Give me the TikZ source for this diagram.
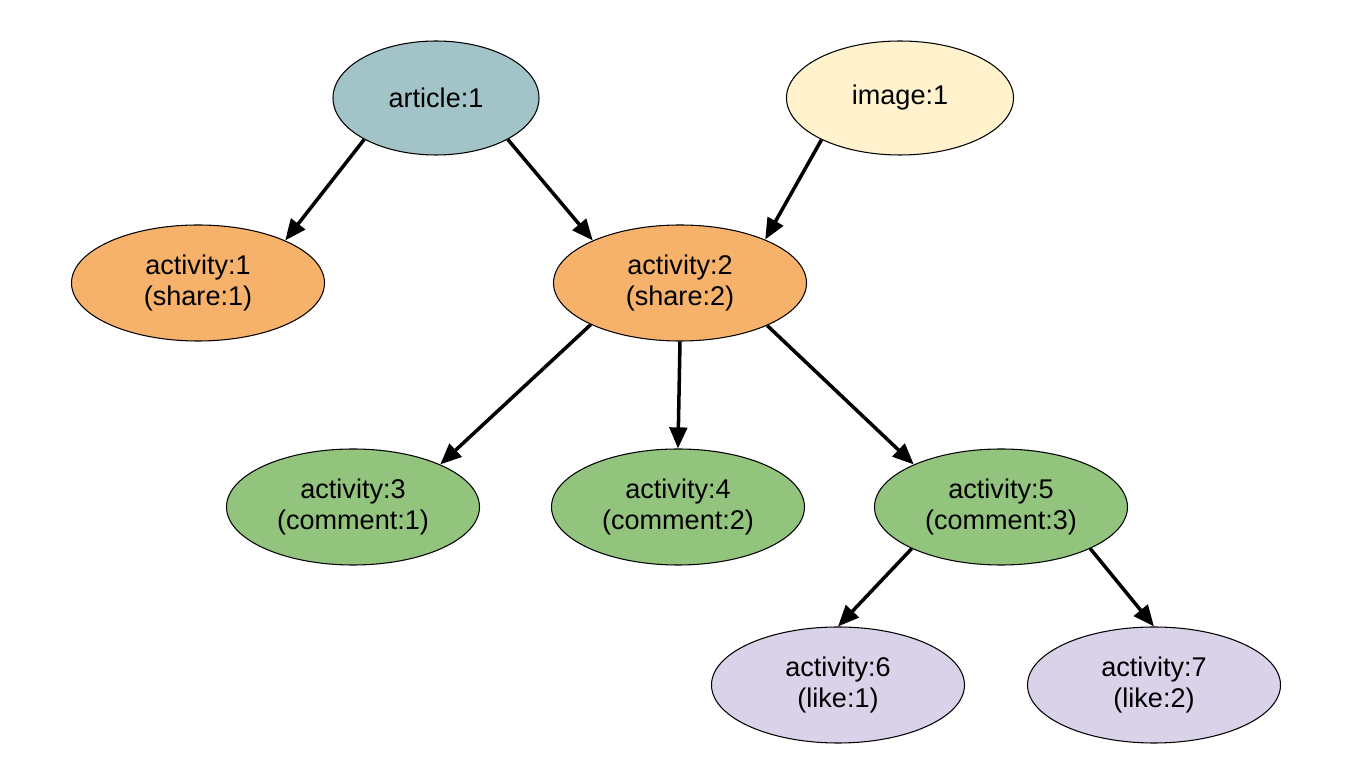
\documentclass[tikz,border=0pt]{standalone}
\usepackage{fontspec}
\setmainfont{Liberation Sans}
\usepackage{xcolor}
\usepackage{tikz}
\usetikzlibrary{shapes.geometric, arrows.meta, positioning}
\definecolor{articleblue}{HTML}{A2C4C9}
\definecolor{imageyellow}{HTML}{FFF2CC}
\definecolor{shareorange}{HTML}{F6B26B}
\definecolor{commentgreen}{HTML}{93C47D}
\definecolor{likepurple}{HTML}{D9D2E9}
\tikzstyle{object} = [ellipse, minimum height=2.28cm, text centered, draw=black, line width=0.6pt, font=\fontsize{15.4}{17.5}\selectfont]
\tikzstyle{activity} = [ellipse, minimum width=5.06cm, minimum height=2.32cm, align=center, draw=black, line width=0.6pt, font=\fontsize{15.4}{17.5}\selectfont]
\tikzstyle{arrow} = [line width=2pt,->,>={Triangle[length=12pt,width=10pt]}]

\begin{document}
\begin{tikzpicture}[node distance=3.7cm]
\useasboundingbox (0,0) rectangle (27.32,15.64);

\node (article) [object, minimum width=4.12cm, fill=articleblue] at (8.72,13.68) {article:1};
\node (image) [object, minimum width=4.54cm, fill=imageyellow, right of=article, node distance=9.28cm] {image:1};
\node (act1) [activity, fill=shareorange, below of=article, xshift=-4.76cm] {activity:1\\(share:1)};
\node (act2) [activity, fill=shareorange, below of=article, xshift=4.88cm] {activity:2\\(share:2)};
\node (act3) [activity, fill=commentgreen, below of=act2, node distance=4.48cm, xshift=-6.54cm] {activity:3\\(comment:1)};
\node (act4) [activity, fill=commentgreen, below of=act2, node distance=4.48cm, xshift=-0.04cm] {activity:4\\(comment:2)};
\node (act5) [activity, fill=commentgreen, below of=act2, node distance=4.48cm, xshift=6.42cm] {activity:5\\(comment:3)};
\node (act6) [activity, fill=likepurple, below of=act5, node distance=3.56cm, xshift=-3.26cm] {activity:6\\(like:1)};
\node (act7) [activity, fill=likepurple, below of=act5, node distance=3.56cm, xshift=3.06cm] {activity:7\\(like:2)};

\draw [arrow] (article.210) -- (act1.26);
\draw [arrow] (article.330) -- (act2.154);
\draw [arrow] (image.208) -- (act2.27);
\draw [arrow] (act2.205) -- (act3.26);
\draw [arrow] (act2.south) -- (act4.north);
\draw [arrow] (act2.334) -- (act5.154);
\draw [arrow] (act5.205) -- (act6.north);
\draw [arrow] (act5.335) -- (act7.north);

\end{tikzpicture}
\end{document}
